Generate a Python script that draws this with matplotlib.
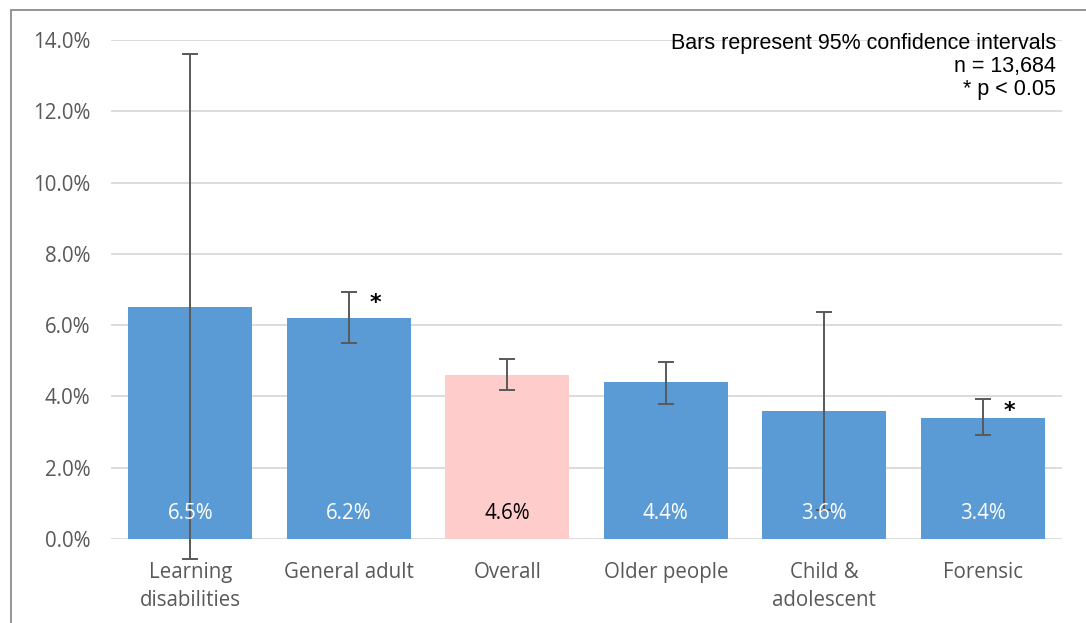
import matplotlib
matplotlib.use("Agg")
import matplotlib.pyplot as plt
from matplotlib.patches import Rectangle
from matplotlib.ticker import FuncFormatter, MultipleLocator

# Rates by service type, with 95% confidence limits (percent)
categories = ["Learning\ndisabilities", "General adult", "Overall",
              "Older people", "Child &\nadolescent", "Forensic"]
rates = [6.5, 6.2, 4.6, 4.4, 3.6, 3.4]
ci_lower = [-0.57, 5.51, 4.18, 3.79, 0.8, 2.91]
ci_upper = [13.62, 6.94, 5.06, 4.96, 6.38, 3.92]
significant = [False, True, False, False, False, True]

blue = "#5B9BD5"
pink = "#FFCCCC"
colors = [pink if c == "Overall" else blue for c in categories]
label_colors = ["black" if c == "Overall" else "white" for c in categories]

W, H = 1086, 623
fig = plt.figure(figsize=(W / 100, H / 100), dpi=100)
ax = fig.add_axes([111 / W, 1 - 539 / H, (1062 - 111) / W, (539 - 40) / H])

# Chart frame, open on the right and bottom edges of the canvas
fig.patches.append(Rectangle((11 / W, -0.1), 1.2, 1 - 10 / H + 0.1,
                             transform=fig.transFigure, fill=False,
                             edgecolor="#8C8C8C", linewidth=1.3))

x = list(range(len(categories)))
ax.bar(x, rates, width=0.78, color=colors, zorder=2)

err_low = [r - lo for r, lo in zip(rates, ci_lower)]
err_high = [hi - r for r, hi in zip(rates, ci_upper)]
eb = ax.errorbar(x, rates, yerr=[err_low, err_high], fmt="none",
                 ecolor="#595959", elinewidth=1.4, capsize=5.5,
                 capthick=1.4, zorder=3)
for artist in eb.lines[1] + eb.lines[2]:
    artist.set_clip_on(False)

font = "Open Sans"
fs = 14.8
for xi, r, tc in zip(x, rates, label_colors):
    ax.text(xi, 0.72, f"{r:.1f}%", ha="center", va="center",
            color=tc, fontsize=fs, family=font, zorder=4)

for xi, hi, sig in zip(x, ci_upper, significant):
    if sig:
        ax.text(xi + 0.17, hi - 0.05, "*", ha="center", va="top",
                fontsize=16, fontweight="bold", color="black", zorder=4)

ax.set_xlim(-0.5, len(categories) - 0.5)
ax.set_ylim(0, 14)
ax.yaxis.set_major_locator(MultipleLocator(2))
ax.yaxis.set_major_formatter(FuncFormatter(lambda v, _: f"{v:.1f}%"))
ax.grid(axis="y", color="#D9D9D9", linewidth=1.3, zorder=0)
ax.set_axisbelow(True)
for s in ax.spines.values():
    s.set_visible(False)
ax.tick_params(length=0)
ax.tick_params(axis="y", pad=15, labelcolor="#595959", labelsize=fs)
ax.tick_params(axis="x", pad=16.5, labelcolor="#595959", labelsize=fs)
ax.set_xticks(x)
ax.set_xticklabels(categories, linespacing=1.42)
for lab in ax.get_xticklabels() + ax.get_yticklabels():
    lab.set_family(font)

ax.text(1056 / W, 1 - 95 / H,
        "Bars represent 95% confidence intervals\nn = 13,684\n* p < 0.05",
        transform=fig.transFigure, ha="right", va="baseline",
        fontsize=15.5, family="Liberation Sans", color="black",
        linespacing=1.12)

fig.savefig("out.png", dpi=100)
